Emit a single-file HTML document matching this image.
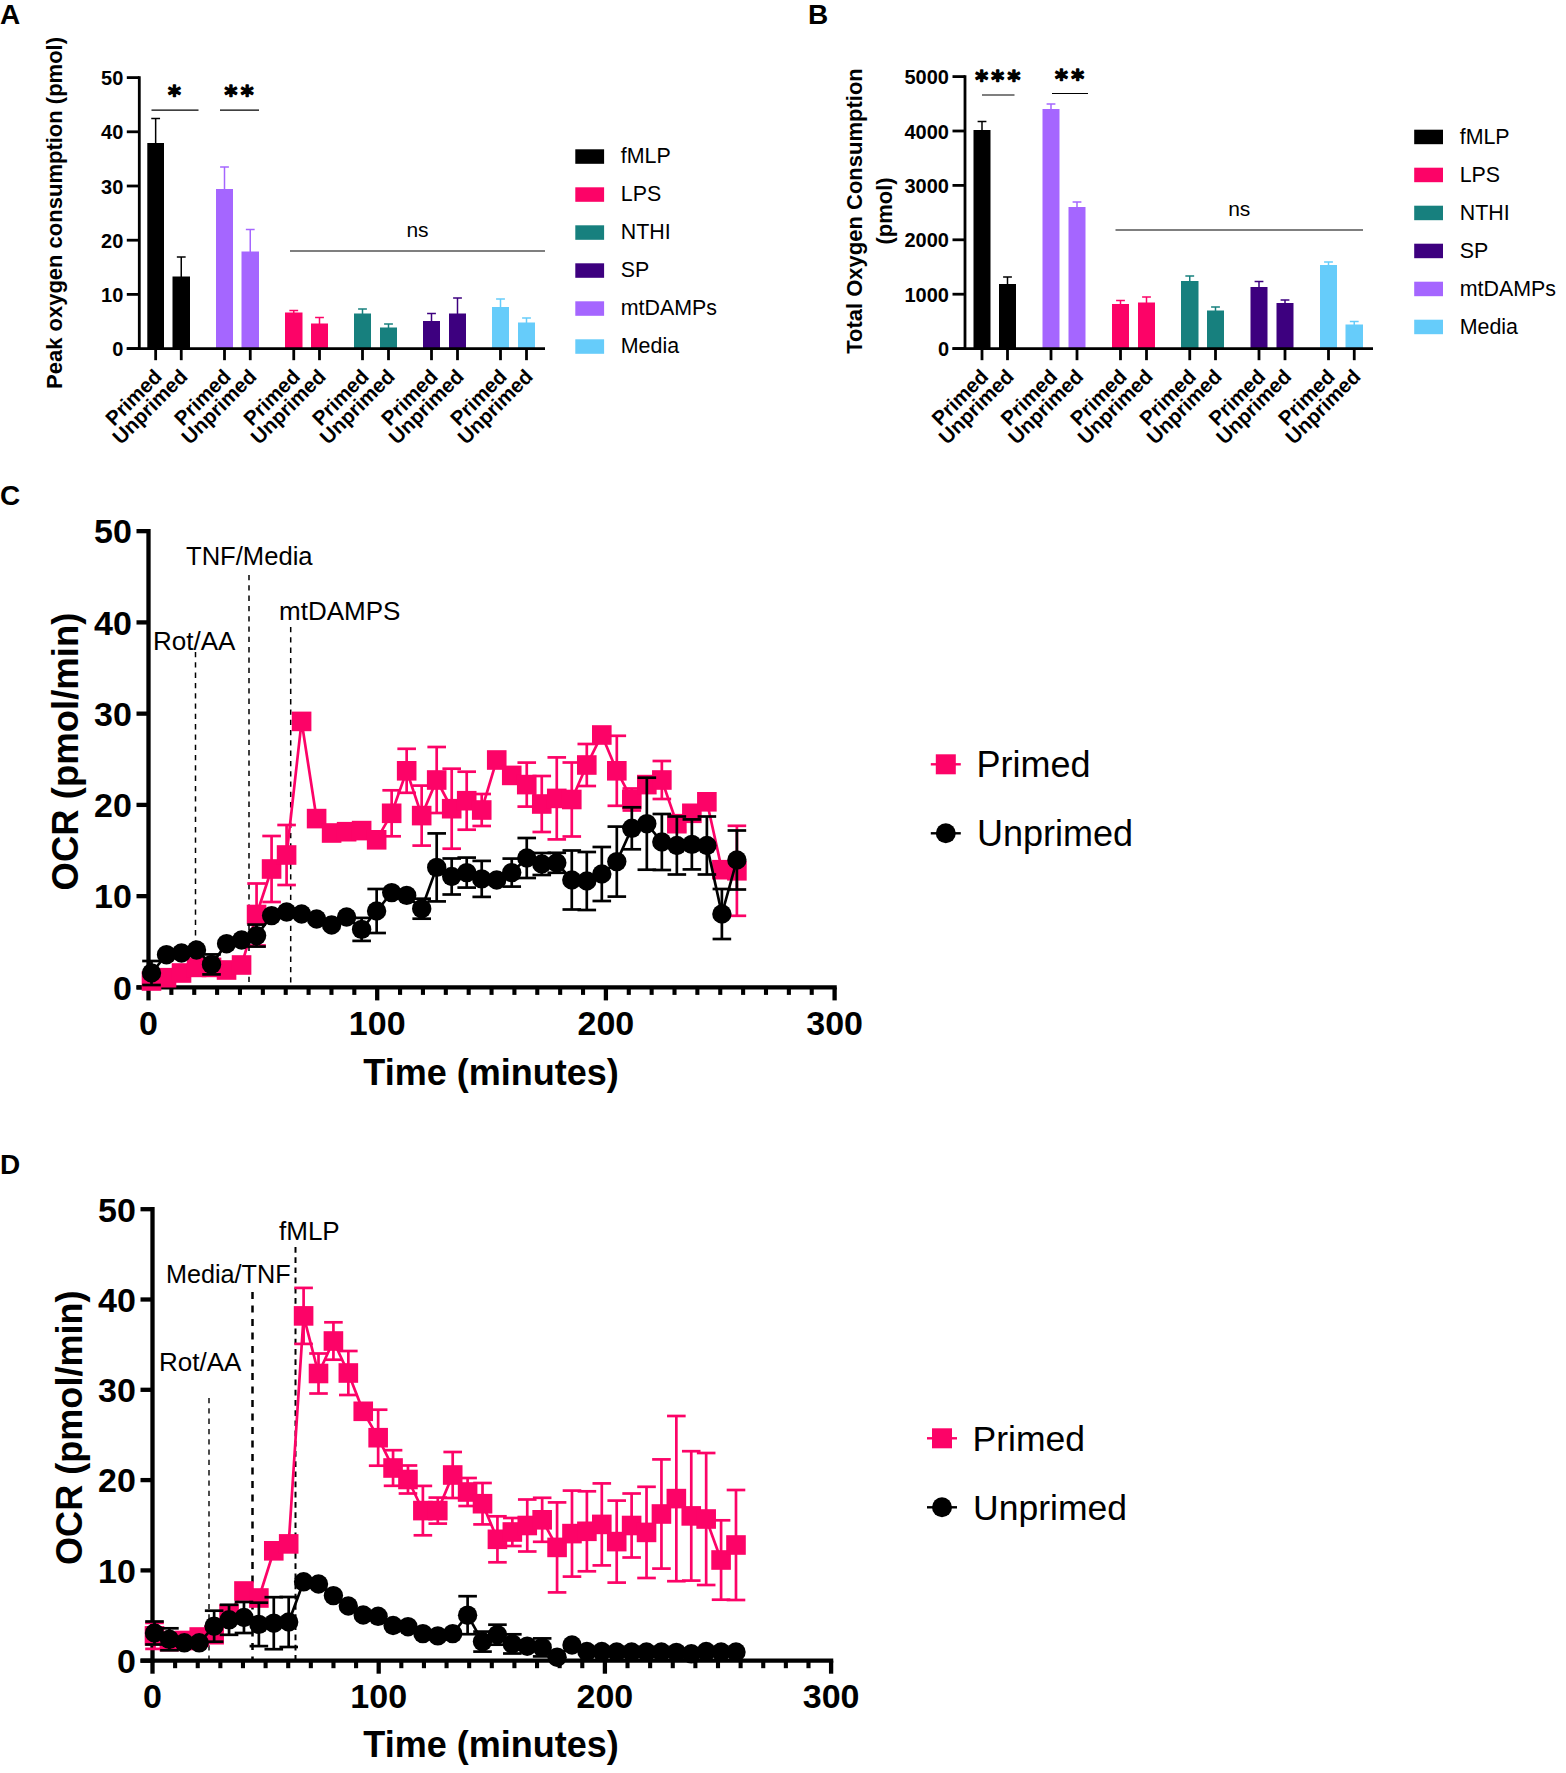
<!DOCTYPE html>
<html lang="en"><head><meta charset="utf-8"><title>Figure</title>
<style>
html,body{margin:0;padding:0;background:#fff;}
body{width:1566px;height:1773px;overflow:hidden;}
svg{display:block;font-family:"Liberation Sans", sans-serif;}
</style></head><body>
<svg width="1566" height="1773" viewBox="0 0 1566 1773">
<rect width="1566" height="1773" fill="#fff"/>
<text x="0.00" y="24.30" font-size="28" font-weight="700" text-anchor="start" fill="#000">A</text>
<line x1="155.65" y1="144.00" x2="155.65" y2="118.50" stroke="#000" stroke-width="1.5"/>
<line x1="151.25" y1="118.50" x2="160.05" y2="118.50" stroke="#000" stroke-width="1.5"/>
<rect x="147.30" y="143.00" width="16.70" height="205.60" fill="#000"/>
<line x1="155.65" y1="348.60" x2="155.65" y2="360.20" stroke="#000" stroke-width="2.8"/>
<line x1="181.25" y1="277.50" x2="181.25" y2="257.00" stroke="#000" stroke-width="1.5"/>
<line x1="176.85" y1="257.00" x2="185.65" y2="257.00" stroke="#000" stroke-width="1.5"/>
<rect x="172.50" y="276.50" width="17.50" height="72.10" fill="#000"/>
<line x1="181.25" y1="348.60" x2="181.25" y2="360.20" stroke="#000" stroke-width="2.8"/>
<line x1="224.50" y1="190.00" x2="224.50" y2="167.00" stroke="#A566FF" stroke-width="1.5"/>
<line x1="220.10" y1="167.00" x2="228.90" y2="167.00" stroke="#A566FF" stroke-width="1.5"/>
<rect x="216.00" y="189.00" width="17.00" height="159.60" fill="#A566FF"/>
<line x1="224.50" y1="348.60" x2="224.50" y2="360.20" stroke="#000" stroke-width="2.8"/>
<line x1="250.25" y1="252.50" x2="250.25" y2="229.50" stroke="#A566FF" stroke-width="1.5"/>
<line x1="245.85" y1="229.50" x2="254.65" y2="229.50" stroke="#A566FF" stroke-width="1.5"/>
<rect x="241.50" y="251.50" width="17.50" height="97.10" fill="#A566FF"/>
<line x1="250.25" y1="348.60" x2="250.25" y2="360.20" stroke="#000" stroke-width="2.8"/>
<line x1="293.75" y1="313.50" x2="293.75" y2="310.50" stroke="#FC0367" stroke-width="1.5"/>
<line x1="289.35" y1="310.50" x2="298.15" y2="310.50" stroke="#FC0367" stroke-width="1.5"/>
<rect x="285.00" y="312.50" width="17.50" height="36.10" fill="#FC0367"/>
<line x1="293.75" y1="348.60" x2="293.75" y2="360.20" stroke="#000" stroke-width="2.8"/>
<line x1="319.50" y1="324.50" x2="319.50" y2="317.50" stroke="#FC0367" stroke-width="1.5"/>
<line x1="315.10" y1="317.50" x2="323.90" y2="317.50" stroke="#FC0367" stroke-width="1.5"/>
<rect x="311.00" y="323.50" width="17.00" height="25.10" fill="#FC0367"/>
<line x1="319.50" y1="348.60" x2="319.50" y2="360.20" stroke="#000" stroke-width="2.8"/>
<line x1="362.50" y1="314.50" x2="362.50" y2="309.00" stroke="#17807E" stroke-width="1.5"/>
<line x1="358.10" y1="309.00" x2="366.90" y2="309.00" stroke="#17807E" stroke-width="1.5"/>
<rect x="354.00" y="313.50" width="17.00" height="35.10" fill="#17807E"/>
<line x1="362.50" y1="348.60" x2="362.50" y2="360.20" stroke="#000" stroke-width="2.8"/>
<line x1="388.50" y1="328.50" x2="388.50" y2="324.00" stroke="#17807E" stroke-width="1.5"/>
<line x1="384.10" y1="324.00" x2="392.90" y2="324.00" stroke="#17807E" stroke-width="1.5"/>
<rect x="380.00" y="327.50" width="17.00" height="21.10" fill="#17807E"/>
<line x1="388.50" y1="348.60" x2="388.50" y2="360.20" stroke="#000" stroke-width="2.8"/>
<line x1="431.50" y1="322.00" x2="431.50" y2="313.50" stroke="#3D007F" stroke-width="1.5"/>
<line x1="427.10" y1="313.50" x2="435.90" y2="313.50" stroke="#3D007F" stroke-width="1.5"/>
<rect x="423.00" y="321.00" width="17.00" height="27.60" fill="#3D007F"/>
<line x1="431.50" y1="348.60" x2="431.50" y2="360.20" stroke="#000" stroke-width="2.8"/>
<line x1="457.50" y1="314.50" x2="457.50" y2="298.00" stroke="#3D007F" stroke-width="1.5"/>
<line x1="453.10" y1="298.00" x2="461.90" y2="298.00" stroke="#3D007F" stroke-width="1.5"/>
<rect x="449.00" y="313.50" width="17.00" height="35.10" fill="#3D007F"/>
<line x1="457.50" y1="348.60" x2="457.50" y2="360.20" stroke="#000" stroke-width="2.8"/>
<line x1="500.50" y1="308.00" x2="500.50" y2="299.00" stroke="#66CCFA" stroke-width="1.5"/>
<line x1="496.10" y1="299.00" x2="504.90" y2="299.00" stroke="#66CCFA" stroke-width="1.5"/>
<rect x="492.00" y="307.00" width="17.00" height="41.60" fill="#66CCFA"/>
<line x1="500.50" y1="348.60" x2="500.50" y2="360.20" stroke="#000" stroke-width="2.8"/>
<line x1="526.50" y1="323.50" x2="526.50" y2="318.00" stroke="#66CCFA" stroke-width="1.5"/>
<line x1="522.10" y1="318.00" x2="530.90" y2="318.00" stroke="#66CCFA" stroke-width="1.5"/>
<rect x="518.00" y="322.50" width="17.00" height="26.10" fill="#66CCFA"/>
<line x1="526.50" y1="348.60" x2="526.50" y2="360.20" stroke="#000" stroke-width="2.8"/>
<line x1="139.30" y1="76.20" x2="139.30" y2="350.00" stroke="#000" stroke-width="2.8"/>
<line x1="126.80" y1="348.60" x2="545.00" y2="348.60" stroke="#000" stroke-width="2.8"/>
<line x1="126.80" y1="348.60" x2="139.30" y2="348.60" stroke="#000" stroke-width="2.8"/>
<text x="123.30" y="356.20" font-size="20" font-weight="700" text-anchor="end" fill="#000">0</text>
<line x1="126.80" y1="294.40" x2="139.30" y2="294.40" stroke="#000" stroke-width="2.8"/>
<text x="123.30" y="302.00" font-size="20" font-weight="700" text-anchor="end" fill="#000">10</text>
<line x1="126.80" y1="240.20" x2="139.30" y2="240.20" stroke="#000" stroke-width="2.8"/>
<text x="123.30" y="247.80" font-size="20" font-weight="700" text-anchor="end" fill="#000">20</text>
<line x1="126.80" y1="186.00" x2="139.30" y2="186.00" stroke="#000" stroke-width="2.8"/>
<text x="123.30" y="193.60" font-size="20" font-weight="700" text-anchor="end" fill="#000">30</text>
<line x1="126.80" y1="131.80" x2="139.30" y2="131.80" stroke="#000" stroke-width="2.8"/>
<text x="123.30" y="139.40" font-size="20" font-weight="700" text-anchor="end" fill="#000">40</text>
<line x1="126.80" y1="77.60" x2="139.30" y2="77.60" stroke="#000" stroke-width="2.8"/>
<text x="123.30" y="85.20" font-size="20" font-weight="700" text-anchor="end" fill="#000">50</text>
<text x="163.15" y="377.80" font-size="20.5" font-weight="700" text-anchor="end" fill="#000" transform="rotate(-45 163.15 377.80)">Primed</text>
<text x="188.75" y="377.80" font-size="20.5" font-weight="700" text-anchor="end" fill="#000" transform="rotate(-45 188.75 377.80)">Unprimed</text>
<text x="232.00" y="377.80" font-size="20.5" font-weight="700" text-anchor="end" fill="#000" transform="rotate(-45 232.00 377.80)">Primed</text>
<text x="257.75" y="377.80" font-size="20.5" font-weight="700" text-anchor="end" fill="#000" transform="rotate(-45 257.75 377.80)">Unprimed</text>
<text x="301.25" y="377.80" font-size="20.5" font-weight="700" text-anchor="end" fill="#000" transform="rotate(-45 301.25 377.80)">Primed</text>
<text x="327.00" y="377.80" font-size="20.5" font-weight="700" text-anchor="end" fill="#000" transform="rotate(-45 327.00 377.80)">Unprimed</text>
<text x="370.00" y="377.80" font-size="20.5" font-weight="700" text-anchor="end" fill="#000" transform="rotate(-45 370.00 377.80)">Primed</text>
<text x="396.00" y="377.80" font-size="20.5" font-weight="700" text-anchor="end" fill="#000" transform="rotate(-45 396.00 377.80)">Unprimed</text>
<text x="439.00" y="377.80" font-size="20.5" font-weight="700" text-anchor="end" fill="#000" transform="rotate(-45 439.00 377.80)">Primed</text>
<text x="465.00" y="377.80" font-size="20.5" font-weight="700" text-anchor="end" fill="#000" transform="rotate(-45 465.00 377.80)">Unprimed</text>
<text x="508.00" y="377.80" font-size="20.5" font-weight="700" text-anchor="end" fill="#000" transform="rotate(-45 508.00 377.80)">Primed</text>
<text x="534.00" y="377.80" font-size="20.5" font-weight="700" text-anchor="end" fill="#000" transform="rotate(-45 534.00 377.80)">Unprimed</text>
<line x1="151.50" y1="110.20" x2="198.50" y2="110.20" stroke="#000" stroke-width="1.2"/>
<text x="176.20" y="102.60" font-family="DejaVu Sans, sans-serif" font-weight="700" font-size="24.5" text-anchor="middle" letter-spacing="3.4" stroke="#000" stroke-width="1.3" stroke-linejoin="round">*</text>
<line x1="220.00" y1="110.20" x2="259.00" y2="110.20" stroke="#000" stroke-width="1.2"/>
<text x="240.70" y="102.60" font-family="DejaVu Sans, sans-serif" font-weight="700" font-size="24.5" text-anchor="middle" letter-spacing="3.4" stroke="#000" stroke-width="1.3" stroke-linejoin="round">**</text>
<line x1="290.00" y1="251.00" x2="545.00" y2="251.00" stroke="#000" stroke-width="1.2"/>
<text x="417.50" y="236.50" font-size="21" text-anchor="middle" fill="#000">ns</text>
<rect x="575.30" y="149.30" width="28.80" height="14.50" fill="#000"/>
<text x="620.80" y="163.30" font-size="21.4" text-anchor="start" fill="#000">fMLP</text>
<rect x="575.30" y="187.30" width="28.80" height="14.50" fill="#FC0367"/>
<text x="620.80" y="201.30" font-size="21.4" text-anchor="start" fill="#000">LPS</text>
<rect x="575.30" y="225.30" width="28.80" height="14.50" fill="#17807E"/>
<text x="620.80" y="239.30" font-size="21.4" text-anchor="start" fill="#000">NTHI</text>
<rect x="575.30" y="263.30" width="28.80" height="14.50" fill="#3D007F"/>
<text x="620.80" y="277.30" font-size="21.4" text-anchor="start" fill="#000">SP</text>
<rect x="575.30" y="301.30" width="28.80" height="14.50" fill="#A566FF"/>
<text x="620.80" y="315.30" font-size="21.4" text-anchor="start" fill="#000">mtDAMPs</text>
<rect x="575.30" y="339.30" width="28.80" height="14.50" fill="#66CCFA"/>
<text x="620.80" y="353.30" font-size="21.4" text-anchor="start" fill="#000">Media</text>
<text x="62.00" y="213.00" font-size="22" font-weight="700" text-anchor="middle" fill="#000" transform="rotate(-90 62.00 213.00)">Peak oxygen consumption (pmol)</text>
<text x="808.00" y="24.30" font-size="28" font-weight="700" text-anchor="start" fill="#000">B</text>
<line x1="982.00" y1="131.00" x2="982.00" y2="121.50" stroke="#000" stroke-width="1.5"/>
<line x1="977.60" y1="121.50" x2="986.40" y2="121.50" stroke="#000" stroke-width="1.5"/>
<rect x="973.50" y="130.00" width="17.00" height="218.60" fill="#000"/>
<line x1="982.00" y1="348.60" x2="982.00" y2="360.20" stroke="#000" stroke-width="2.8"/>
<line x1="1007.50" y1="285.00" x2="1007.50" y2="277.00" stroke="#000" stroke-width="1.5"/>
<line x1="1003.10" y1="277.00" x2="1011.90" y2="277.00" stroke="#000" stroke-width="1.5"/>
<rect x="999.00" y="284.00" width="17.00" height="64.60" fill="#000"/>
<line x1="1007.50" y1="348.60" x2="1007.50" y2="360.20" stroke="#000" stroke-width="2.8"/>
<line x1="1051.00" y1="110.00" x2="1051.00" y2="104.00" stroke="#A566FF" stroke-width="1.5"/>
<line x1="1046.60" y1="104.00" x2="1055.40" y2="104.00" stroke="#A566FF" stroke-width="1.5"/>
<rect x="1042.50" y="109.00" width="17.00" height="239.60" fill="#A566FF"/>
<line x1="1051.00" y1="348.60" x2="1051.00" y2="360.20" stroke="#000" stroke-width="2.8"/>
<line x1="1077.00" y1="208.00" x2="1077.00" y2="202.00" stroke="#A566FF" stroke-width="1.5"/>
<line x1="1072.60" y1="202.00" x2="1081.40" y2="202.00" stroke="#A566FF" stroke-width="1.5"/>
<rect x="1068.50" y="207.00" width="17.00" height="141.60" fill="#A566FF"/>
<line x1="1077.00" y1="348.60" x2="1077.00" y2="360.20" stroke="#000" stroke-width="2.8"/>
<line x1="1120.50" y1="305.00" x2="1120.50" y2="300.50" stroke="#FC0367" stroke-width="1.5"/>
<line x1="1116.10" y1="300.50" x2="1124.90" y2="300.50" stroke="#FC0367" stroke-width="1.5"/>
<rect x="1112.00" y="304.00" width="17.00" height="44.60" fill="#FC0367"/>
<line x1="1120.50" y1="348.60" x2="1120.50" y2="360.20" stroke="#000" stroke-width="2.8"/>
<line x1="1146.50" y1="303.50" x2="1146.50" y2="297.00" stroke="#FC0367" stroke-width="1.5"/>
<line x1="1142.10" y1="297.00" x2="1150.90" y2="297.00" stroke="#FC0367" stroke-width="1.5"/>
<rect x="1138.00" y="302.50" width="17.00" height="46.10" fill="#FC0367"/>
<line x1="1146.50" y1="348.60" x2="1146.50" y2="360.20" stroke="#000" stroke-width="2.8"/>
<line x1="1189.75" y1="282.00" x2="1189.75" y2="276.00" stroke="#17807E" stroke-width="1.5"/>
<line x1="1185.35" y1="276.00" x2="1194.15" y2="276.00" stroke="#17807E" stroke-width="1.5"/>
<rect x="1181.00" y="281.00" width="17.50" height="67.60" fill="#17807E"/>
<line x1="1189.75" y1="348.60" x2="1189.75" y2="360.20" stroke="#000" stroke-width="2.8"/>
<line x1="1215.50" y1="311.50" x2="1215.50" y2="307.00" stroke="#17807E" stroke-width="1.5"/>
<line x1="1211.10" y1="307.00" x2="1219.90" y2="307.00" stroke="#17807E" stroke-width="1.5"/>
<rect x="1207.00" y="310.50" width="17.00" height="38.10" fill="#17807E"/>
<line x1="1215.50" y1="348.60" x2="1215.50" y2="360.20" stroke="#000" stroke-width="2.8"/>
<line x1="1259.00" y1="288.00" x2="1259.00" y2="281.50" stroke="#3D007F" stroke-width="1.5"/>
<line x1="1254.60" y1="281.50" x2="1263.40" y2="281.50" stroke="#3D007F" stroke-width="1.5"/>
<rect x="1250.50" y="287.00" width="17.00" height="61.60" fill="#3D007F"/>
<line x1="1259.00" y1="348.60" x2="1259.00" y2="360.20" stroke="#000" stroke-width="2.8"/>
<line x1="1285.00" y1="304.00" x2="1285.00" y2="300.00" stroke="#3D007F" stroke-width="1.5"/>
<line x1="1280.60" y1="300.00" x2="1289.40" y2="300.00" stroke="#3D007F" stroke-width="1.5"/>
<rect x="1276.50" y="303.00" width="17.00" height="45.60" fill="#3D007F"/>
<line x1="1285.00" y1="348.60" x2="1285.00" y2="360.20" stroke="#000" stroke-width="2.8"/>
<line x1="1328.50" y1="266.00" x2="1328.50" y2="262.00" stroke="#66CCFA" stroke-width="1.5"/>
<line x1="1324.10" y1="262.00" x2="1332.90" y2="262.00" stroke="#66CCFA" stroke-width="1.5"/>
<rect x="1320.00" y="265.00" width="17.00" height="83.60" fill="#66CCFA"/>
<line x1="1328.50" y1="348.60" x2="1328.50" y2="360.20" stroke="#000" stroke-width="2.8"/>
<line x1="1354.25" y1="325.50" x2="1354.25" y2="321.50" stroke="#66CCFA" stroke-width="1.5"/>
<line x1="1349.85" y1="321.50" x2="1358.65" y2="321.50" stroke="#66CCFA" stroke-width="1.5"/>
<rect x="1345.50" y="324.50" width="17.50" height="24.10" fill="#66CCFA"/>
<line x1="1354.25" y1="348.60" x2="1354.25" y2="360.20" stroke="#000" stroke-width="2.8"/>
<line x1="965.00" y1="75.20" x2="965.00" y2="350.00" stroke="#000" stroke-width="2.8"/>
<line x1="952.50" y1="348.60" x2="1373.00" y2="348.60" stroke="#000" stroke-width="2.8"/>
<line x1="952.50" y1="348.60" x2="965.00" y2="348.60" stroke="#000" stroke-width="2.8"/>
<text x="949.00" y="356.20" font-size="20" font-weight="700" text-anchor="end" fill="#000">0</text>
<line x1="952.50" y1="294.20" x2="965.00" y2="294.20" stroke="#000" stroke-width="2.8"/>
<text x="949.00" y="301.80" font-size="20" font-weight="700" text-anchor="end" fill="#000">1000</text>
<line x1="952.50" y1="239.80" x2="965.00" y2="239.80" stroke="#000" stroke-width="2.8"/>
<text x="949.00" y="247.40" font-size="20" font-weight="700" text-anchor="end" fill="#000">2000</text>
<line x1="952.50" y1="185.40" x2="965.00" y2="185.40" stroke="#000" stroke-width="2.8"/>
<text x="949.00" y="193.00" font-size="20" font-weight="700" text-anchor="end" fill="#000">3000</text>
<line x1="952.50" y1="131.00" x2="965.00" y2="131.00" stroke="#000" stroke-width="2.8"/>
<text x="949.00" y="138.60" font-size="20" font-weight="700" text-anchor="end" fill="#000">4000</text>
<line x1="952.50" y1="76.60" x2="965.00" y2="76.60" stroke="#000" stroke-width="2.8"/>
<text x="949.00" y="84.20" font-size="20" font-weight="700" text-anchor="end" fill="#000">5000</text>
<text x="989.50" y="377.80" font-size="20.5" font-weight="700" text-anchor="end" fill="#000" transform="rotate(-45 989.50 377.80)">Primed</text>
<text x="1015.00" y="377.80" font-size="20.5" font-weight="700" text-anchor="end" fill="#000" transform="rotate(-45 1015.00 377.80)">Unprimed</text>
<text x="1058.50" y="377.80" font-size="20.5" font-weight="700" text-anchor="end" fill="#000" transform="rotate(-45 1058.50 377.80)">Primed</text>
<text x="1084.50" y="377.80" font-size="20.5" font-weight="700" text-anchor="end" fill="#000" transform="rotate(-45 1084.50 377.80)">Unprimed</text>
<text x="1128.00" y="377.80" font-size="20.5" font-weight="700" text-anchor="end" fill="#000" transform="rotate(-45 1128.00 377.80)">Primed</text>
<text x="1154.00" y="377.80" font-size="20.5" font-weight="700" text-anchor="end" fill="#000" transform="rotate(-45 1154.00 377.80)">Unprimed</text>
<text x="1197.25" y="377.80" font-size="20.5" font-weight="700" text-anchor="end" fill="#000" transform="rotate(-45 1197.25 377.80)">Primed</text>
<text x="1223.00" y="377.80" font-size="20.5" font-weight="700" text-anchor="end" fill="#000" transform="rotate(-45 1223.00 377.80)">Unprimed</text>
<text x="1266.50" y="377.80" font-size="20.5" font-weight="700" text-anchor="end" fill="#000" transform="rotate(-45 1266.50 377.80)">Primed</text>
<text x="1292.50" y="377.80" font-size="20.5" font-weight="700" text-anchor="end" fill="#000" transform="rotate(-45 1292.50 377.80)">Unprimed</text>
<text x="1336.00" y="377.80" font-size="20.5" font-weight="700" text-anchor="end" fill="#000" transform="rotate(-45 1336.00 377.80)">Primed</text>
<text x="1361.75" y="377.80" font-size="20.5" font-weight="700" text-anchor="end" fill="#000" transform="rotate(-45 1361.75 377.80)">Unprimed</text>
<line x1="982.00" y1="95.00" x2="1014.50" y2="95.00" stroke="#000" stroke-width="1.2"/>
<text x="999.45" y="87.60" font-family="DejaVu Sans, sans-serif" font-weight="700" font-size="24.5" text-anchor="middle" letter-spacing="3.4" stroke="#000" stroke-width="1.3" stroke-linejoin="round">***</text>
<line x1="1052.00" y1="93.50" x2="1088.00" y2="93.50" stroke="#000" stroke-width="1.2"/>
<text x="1071.20" y="86.60" font-family="DejaVu Sans, sans-serif" font-weight="700" font-size="24.5" text-anchor="middle" letter-spacing="3.4" stroke="#000" stroke-width="1.3" stroke-linejoin="round">**</text>
<line x1="1115.50" y1="230.00" x2="1363.00" y2="230.00" stroke="#000" stroke-width="1.2"/>
<text x="1239.25" y="216.00" font-size="21" text-anchor="middle" fill="#000">ns</text>
<rect x="1414.20" y="129.70" width="28.80" height="14.50" fill="#000"/>
<text x="1459.70" y="143.70" font-size="21.4" text-anchor="start" fill="#000">fMLP</text>
<rect x="1414.20" y="167.70" width="28.80" height="14.50" fill="#FC0367"/>
<text x="1459.70" y="181.70" font-size="21.4" text-anchor="start" fill="#000">LPS</text>
<rect x="1414.20" y="205.70" width="28.80" height="14.50" fill="#17807E"/>
<text x="1459.70" y="219.70" font-size="21.4" text-anchor="start" fill="#000">NTHI</text>
<rect x="1414.20" y="243.70" width="28.80" height="14.50" fill="#3D007F"/>
<text x="1459.70" y="257.70" font-size="21.4" text-anchor="start" fill="#000">SP</text>
<rect x="1414.20" y="281.70" width="28.80" height="14.50" fill="#A566FF"/>
<text x="1459.70" y="295.70" font-size="21.4" text-anchor="start" fill="#000">mtDAMPs</text>
<rect x="1414.20" y="319.70" width="28.80" height="14.50" fill="#66CCFA"/>
<text x="1459.70" y="333.70" font-size="21.4" text-anchor="start" fill="#000">Media</text>
<text x="862.00" y="211.00" font-size="22" font-weight="700" text-anchor="middle" fill="#000" transform="rotate(-90 862.00 211.00)">Total Oxygen Consumption</text>
<text x="891.50" y="211.00" font-size="22" font-weight="700" text-anchor="middle" fill="#000" transform="rotate(-90 891.50 211.00)">(pmol)</text>
<text x="0.00" y="505.30" font-size="28" font-weight="700" text-anchor="start" fill="#000">C</text>
<line x1="148.50" y1="529.00" x2="148.50" y2="989.55" stroke="#000" stroke-width="4.3"/>
<line x1="136.50" y1="987.40" x2="836.75" y2="987.40" stroke="#000" stroke-width="4.3"/>
<line x1="136.50" y1="987.40" x2="148.50" y2="987.40" stroke="#000" stroke-width="4.3"/>
<text x="131.90" y="999.70" font-size="34" font-weight="700" text-anchor="end" fill="#000">0</text>
<line x1="136.50" y1="896.15" x2="148.50" y2="896.15" stroke="#000" stroke-width="4.3"/>
<text x="131.90" y="908.45" font-size="34" font-weight="700" text-anchor="end" fill="#000">10</text>
<line x1="136.50" y1="804.90" x2="148.50" y2="804.90" stroke="#000" stroke-width="4.3"/>
<text x="131.90" y="817.20" font-size="34" font-weight="700" text-anchor="end" fill="#000">20</text>
<line x1="136.50" y1="713.65" x2="148.50" y2="713.65" stroke="#000" stroke-width="4.3"/>
<text x="131.90" y="725.95" font-size="34" font-weight="700" text-anchor="end" fill="#000">30</text>
<line x1="136.50" y1="622.40" x2="148.50" y2="622.40" stroke="#000" stroke-width="4.3"/>
<text x="131.90" y="634.70" font-size="34" font-weight="700" text-anchor="end" fill="#000">40</text>
<line x1="136.50" y1="531.15" x2="148.50" y2="531.15" stroke="#000" stroke-width="4.3"/>
<text x="131.90" y="543.45" font-size="34" font-weight="700" text-anchor="end" fill="#000">50</text>
<line x1="148.50" y1="987.40" x2="148.50" y2="1000.40" stroke="#000" stroke-width="4.3"/>
<text x="148.50" y="1034.60" font-size="34" font-weight="700" text-anchor="middle" fill="#000">0</text>
<line x1="171.37" y1="987.40" x2="171.37" y2="994.90" stroke="#000" stroke-width="4.1"/>
<line x1="194.24" y1="987.40" x2="194.24" y2="994.90" stroke="#000" stroke-width="4.1"/>
<line x1="217.11" y1="987.40" x2="217.11" y2="994.90" stroke="#000" stroke-width="4.1"/>
<line x1="239.98" y1="987.40" x2="239.98" y2="994.90" stroke="#000" stroke-width="4.1"/>
<line x1="262.85" y1="987.40" x2="262.85" y2="994.90" stroke="#000" stroke-width="4.1"/>
<line x1="285.72" y1="987.40" x2="285.72" y2="994.90" stroke="#000" stroke-width="4.1"/>
<line x1="308.59" y1="987.40" x2="308.59" y2="994.90" stroke="#000" stroke-width="4.1"/>
<line x1="331.46" y1="987.40" x2="331.46" y2="994.90" stroke="#000" stroke-width="4.1"/>
<line x1="354.33" y1="987.40" x2="354.33" y2="994.90" stroke="#000" stroke-width="4.1"/>
<line x1="377.20" y1="987.40" x2="377.20" y2="1000.40" stroke="#000" stroke-width="4.3"/>
<text x="377.20" y="1034.60" font-size="34" font-weight="700" text-anchor="middle" fill="#000">100</text>
<line x1="400.07" y1="987.40" x2="400.07" y2="994.90" stroke="#000" stroke-width="4.1"/>
<line x1="422.94" y1="987.40" x2="422.94" y2="994.90" stroke="#000" stroke-width="4.1"/>
<line x1="445.81" y1="987.40" x2="445.81" y2="994.90" stroke="#000" stroke-width="4.1"/>
<line x1="468.68" y1="987.40" x2="468.68" y2="994.90" stroke="#000" stroke-width="4.1"/>
<line x1="491.55" y1="987.40" x2="491.55" y2="994.90" stroke="#000" stroke-width="4.1"/>
<line x1="514.42" y1="987.40" x2="514.42" y2="994.90" stroke="#000" stroke-width="4.1"/>
<line x1="537.29" y1="987.40" x2="537.29" y2="994.90" stroke="#000" stroke-width="4.1"/>
<line x1="560.16" y1="987.40" x2="560.16" y2="994.90" stroke="#000" stroke-width="4.1"/>
<line x1="583.03" y1="987.40" x2="583.03" y2="994.90" stroke="#000" stroke-width="4.1"/>
<line x1="605.90" y1="987.40" x2="605.90" y2="1000.40" stroke="#000" stroke-width="4.3"/>
<text x="605.90" y="1034.60" font-size="34" font-weight="700" text-anchor="middle" fill="#000">200</text>
<line x1="628.77" y1="987.40" x2="628.77" y2="994.90" stroke="#000" stroke-width="4.1"/>
<line x1="651.64" y1="987.40" x2="651.64" y2="994.90" stroke="#000" stroke-width="4.1"/>
<line x1="674.51" y1="987.40" x2="674.51" y2="994.90" stroke="#000" stroke-width="4.1"/>
<line x1="697.38" y1="987.40" x2="697.38" y2="994.90" stroke="#000" stroke-width="4.1"/>
<line x1="720.25" y1="987.40" x2="720.25" y2="994.90" stroke="#000" stroke-width="4.1"/>
<line x1="743.12" y1="987.40" x2="743.12" y2="994.90" stroke="#000" stroke-width="4.1"/>
<line x1="765.99" y1="987.40" x2="765.99" y2="994.90" stroke="#000" stroke-width="4.1"/>
<line x1="788.86" y1="987.40" x2="788.86" y2="994.90" stroke="#000" stroke-width="4.1"/>
<line x1="811.73" y1="987.40" x2="811.73" y2="994.90" stroke="#000" stroke-width="4.1"/>
<line x1="834.60" y1="987.40" x2="834.60" y2="1000.40" stroke="#000" stroke-width="4.3"/>
<text x="834.60" y="1034.60" font-size="34" font-weight="700" text-anchor="middle" fill="#000">300</text>
<line x1="195.50" y1="652.00" x2="195.50" y2="977.00" stroke="#000" stroke-width="1.5" stroke-dasharray="5.3 5"/>
<line x1="249.00" y1="575.00" x2="249.00" y2="989.00" stroke="#000" stroke-width="1.5" stroke-dasharray="5.3 5"/>
<line x1="290.70" y1="627.00" x2="290.70" y2="984.00" stroke="#000" stroke-width="1.5" stroke-dasharray="5.3 5"/>
<text x="153.00" y="650.00" font-size="26" text-anchor="start" fill="#000">Rot/AA</text>
<text x="186.00" y="565.00" font-size="25.6" text-anchor="start" fill="#000">TNF/Media</text>
<text x="279.00" y="620.00" font-size="26" text-anchor="start" fill="#000">mtDAMPS</text>
<line x1="256.57" y1="883.50" x2="256.57" y2="945.50" stroke="#FC0367" stroke-width="2.7"/>
<line x1="247.27" y1="883.50" x2="265.87" y2="883.50" stroke="#FC0367" stroke-width="2.7"/>
<line x1="247.27" y1="945.50" x2="265.87" y2="945.50" stroke="#FC0367" stroke-width="2.7"/>
<line x1="271.58" y1="836.00" x2="271.58" y2="902.00" stroke="#FC0367" stroke-width="2.7"/>
<line x1="262.28" y1="836.00" x2="280.88" y2="836.00" stroke="#FC0367" stroke-width="2.7"/>
<line x1="262.28" y1="902.00" x2="280.88" y2="902.00" stroke="#FC0367" stroke-width="2.7"/>
<line x1="286.59" y1="825.00" x2="286.59" y2="885.00" stroke="#FC0367" stroke-width="2.7"/>
<line x1="277.29" y1="825.00" x2="295.89" y2="825.00" stroke="#FC0367" stroke-width="2.7"/>
<line x1="277.29" y1="885.00" x2="295.89" y2="885.00" stroke="#FC0367" stroke-width="2.7"/>
<line x1="391.66" y1="790.30" x2="391.66" y2="836.30" stroke="#FC0367" stroke-width="2.7"/>
<line x1="382.36" y1="790.30" x2="400.96" y2="790.30" stroke="#FC0367" stroke-width="2.7"/>
<line x1="382.36" y1="836.30" x2="400.96" y2="836.30" stroke="#FC0367" stroke-width="2.7"/>
<line x1="406.67" y1="748.80" x2="406.67" y2="792.80" stroke="#FC0367" stroke-width="2.7"/>
<line x1="397.37" y1="748.80" x2="415.97" y2="748.80" stroke="#FC0367" stroke-width="2.7"/>
<line x1="397.37" y1="792.80" x2="415.97" y2="792.80" stroke="#FC0367" stroke-width="2.7"/>
<line x1="421.68" y1="785.60" x2="421.68" y2="845.60" stroke="#FC0367" stroke-width="2.7"/>
<line x1="412.38" y1="785.60" x2="430.98" y2="785.60" stroke="#FC0367" stroke-width="2.7"/>
<line x1="412.38" y1="845.60" x2="430.98" y2="845.60" stroke="#FC0367" stroke-width="2.7"/>
<line x1="436.69" y1="747.00" x2="436.69" y2="813.00" stroke="#FC0367" stroke-width="2.7"/>
<line x1="427.39" y1="747.00" x2="445.99" y2="747.00" stroke="#FC0367" stroke-width="2.7"/>
<line x1="427.39" y1="813.00" x2="445.99" y2="813.00" stroke="#FC0367" stroke-width="2.7"/>
<line x1="451.70" y1="768.70" x2="451.70" y2="848.70" stroke="#FC0367" stroke-width="2.7"/>
<line x1="442.40" y1="768.70" x2="461.00" y2="768.70" stroke="#FC0367" stroke-width="2.7"/>
<line x1="442.40" y1="848.70" x2="461.00" y2="848.70" stroke="#FC0367" stroke-width="2.7"/>
<line x1="466.71" y1="771.70" x2="466.71" y2="829.70" stroke="#FC0367" stroke-width="2.7"/>
<line x1="457.41" y1="771.70" x2="476.01" y2="771.70" stroke="#FC0367" stroke-width="2.7"/>
<line x1="457.41" y1="829.70" x2="476.01" y2="829.70" stroke="#FC0367" stroke-width="2.7"/>
<line x1="481.72" y1="794.00" x2="481.72" y2="826.00" stroke="#FC0367" stroke-width="2.7"/>
<line x1="472.42" y1="794.00" x2="491.02" y2="794.00" stroke="#FC0367" stroke-width="2.7"/>
<line x1="472.42" y1="826.00" x2="491.02" y2="826.00" stroke="#FC0367" stroke-width="2.7"/>
<line x1="526.75" y1="762.60" x2="526.75" y2="806.60" stroke="#FC0367" stroke-width="2.7"/>
<line x1="517.45" y1="762.60" x2="536.05" y2="762.60" stroke="#FC0367" stroke-width="2.7"/>
<line x1="517.45" y1="806.60" x2="536.05" y2="806.60" stroke="#FC0367" stroke-width="2.7"/>
<line x1="541.76" y1="776.00" x2="541.76" y2="832.00" stroke="#FC0367" stroke-width="2.7"/>
<line x1="532.46" y1="776.00" x2="551.06" y2="776.00" stroke="#FC0367" stroke-width="2.7"/>
<line x1="532.46" y1="832.00" x2="551.06" y2="832.00" stroke="#FC0367" stroke-width="2.7"/>
<line x1="556.77" y1="757.40" x2="556.77" y2="839.40" stroke="#FC0367" stroke-width="2.7"/>
<line x1="547.47" y1="757.40" x2="566.07" y2="757.40" stroke="#FC0367" stroke-width="2.7"/>
<line x1="547.47" y1="839.40" x2="566.07" y2="839.40" stroke="#FC0367" stroke-width="2.7"/>
<line x1="571.78" y1="762.50" x2="571.78" y2="836.50" stroke="#FC0367" stroke-width="2.7"/>
<line x1="562.48" y1="762.50" x2="581.08" y2="762.50" stroke="#FC0367" stroke-width="2.7"/>
<line x1="562.48" y1="836.50" x2="581.08" y2="836.50" stroke="#FC0367" stroke-width="2.7"/>
<line x1="586.79" y1="744.00" x2="586.79" y2="786.00" stroke="#FC0367" stroke-width="2.7"/>
<line x1="577.49" y1="744.00" x2="596.09" y2="744.00" stroke="#FC0367" stroke-width="2.7"/>
<line x1="577.49" y1="786.00" x2="596.09" y2="786.00" stroke="#FC0367" stroke-width="2.7"/>
<line x1="616.81" y1="735.80" x2="616.81" y2="805.80" stroke="#FC0367" stroke-width="2.7"/>
<line x1="607.51" y1="735.80" x2="626.11" y2="735.80" stroke="#FC0367" stroke-width="2.7"/>
<line x1="607.51" y1="805.80" x2="626.11" y2="805.80" stroke="#FC0367" stroke-width="2.7"/>
<line x1="631.82" y1="788.50" x2="631.82" y2="810.50" stroke="#FC0367" stroke-width="2.7"/>
<line x1="622.52" y1="788.50" x2="641.12" y2="788.50" stroke="#FC0367" stroke-width="2.7"/>
<line x1="622.52" y1="810.50" x2="641.12" y2="810.50" stroke="#FC0367" stroke-width="2.7"/>
<line x1="661.84" y1="761.00" x2="661.84" y2="799.00" stroke="#FC0367" stroke-width="2.7"/>
<line x1="652.54" y1="761.00" x2="671.14" y2="761.00" stroke="#FC0367" stroke-width="2.7"/>
<line x1="652.54" y1="799.00" x2="671.14" y2="799.00" stroke="#FC0367" stroke-width="2.7"/>
<line x1="676.85" y1="816.70" x2="676.85" y2="830.70" stroke="#FC0367" stroke-width="2.7"/>
<line x1="667.55" y1="816.70" x2="686.15" y2="816.70" stroke="#FC0367" stroke-width="2.7"/>
<line x1="667.55" y1="830.70" x2="686.15" y2="830.70" stroke="#FC0367" stroke-width="2.7"/>
<line x1="736.89" y1="825.80" x2="736.89" y2="915.80" stroke="#FC0367" stroke-width="2.7"/>
<line x1="727.59" y1="825.80" x2="746.19" y2="825.80" stroke="#FC0367" stroke-width="2.7"/>
<line x1="727.59" y1="915.80" x2="746.19" y2="915.80" stroke="#FC0367" stroke-width="2.7"/>
<polyline points="151.5,981.0 166.5,977.7 181.5,973.0 196.5,967.4 211.5,967.4 226.6,970.0 241.6,965.0 256.6,914.5 271.6,869.0 286.6,855.0 301.6,721.4 316.6,818.6 331.6,833.0 346.6,831.7 361.6,830.6 376.6,839.8 391.7,813.3 406.7,770.8 421.7,815.6 436.7,780.0 451.7,808.7 466.7,800.7 481.7,810.0 496.7,760.0 511.7,775.4 526.8,784.6 541.8,804.0 556.8,798.4 571.8,799.5 586.8,765.0 601.8,735.0 616.8,770.8 631.8,799.5 646.8,784.6 661.8,780.0 676.9,823.7 691.9,813.3 706.9,801.8 721.9,869.7 736.9,870.8" fill="none" stroke="#FC0367" stroke-width="2.7"/>
<rect x="141.70" y="971.20" width="19.60" height="19.60" fill="#FC0367"/>
<rect x="156.71" y="967.90" width="19.60" height="19.60" fill="#FC0367"/>
<rect x="171.72" y="963.20" width="19.60" height="19.60" fill="#FC0367"/>
<rect x="186.73" y="957.60" width="19.60" height="19.60" fill="#FC0367"/>
<rect x="201.74" y="957.60" width="19.60" height="19.60" fill="#FC0367"/>
<rect x="216.75" y="960.20" width="19.60" height="19.60" fill="#FC0367"/>
<rect x="231.76" y="955.20" width="19.60" height="19.60" fill="#FC0367"/>
<rect x="246.77" y="904.70" width="19.60" height="19.60" fill="#FC0367"/>
<rect x="261.78" y="859.20" width="19.60" height="19.60" fill="#FC0367"/>
<rect x="276.79" y="845.20" width="19.60" height="19.60" fill="#FC0367"/>
<rect x="291.80" y="711.60" width="19.60" height="19.60" fill="#FC0367"/>
<rect x="306.81" y="808.80" width="19.60" height="19.60" fill="#FC0367"/>
<rect x="321.82" y="823.20" width="19.60" height="19.60" fill="#FC0367"/>
<rect x="336.83" y="821.90" width="19.60" height="19.60" fill="#FC0367"/>
<rect x="351.84" y="820.80" width="19.60" height="19.60" fill="#FC0367"/>
<rect x="366.85" y="830.00" width="19.60" height="19.60" fill="#FC0367"/>
<rect x="381.86" y="803.50" width="19.60" height="19.60" fill="#FC0367"/>
<rect x="396.87" y="761.00" width="19.60" height="19.60" fill="#FC0367"/>
<rect x="411.88" y="805.80" width="19.60" height="19.60" fill="#FC0367"/>
<rect x="426.89" y="770.20" width="19.60" height="19.60" fill="#FC0367"/>
<rect x="441.90" y="798.90" width="19.60" height="19.60" fill="#FC0367"/>
<rect x="456.91" y="790.90" width="19.60" height="19.60" fill="#FC0367"/>
<rect x="471.92" y="800.20" width="19.60" height="19.60" fill="#FC0367"/>
<rect x="486.93" y="750.20" width="19.60" height="19.60" fill="#FC0367"/>
<rect x="501.94" y="765.60" width="19.60" height="19.60" fill="#FC0367"/>
<rect x="516.95" y="774.80" width="19.60" height="19.60" fill="#FC0367"/>
<rect x="531.96" y="794.20" width="19.60" height="19.60" fill="#FC0367"/>
<rect x="546.97" y="788.60" width="19.60" height="19.60" fill="#FC0367"/>
<rect x="561.98" y="789.70" width="19.60" height="19.60" fill="#FC0367"/>
<rect x="576.99" y="755.20" width="19.60" height="19.60" fill="#FC0367"/>
<rect x="592.00" y="725.20" width="19.60" height="19.60" fill="#FC0367"/>
<rect x="607.01" y="761.00" width="19.60" height="19.60" fill="#FC0367"/>
<rect x="622.02" y="789.70" width="19.60" height="19.60" fill="#FC0367"/>
<rect x="637.03" y="774.80" width="19.60" height="19.60" fill="#FC0367"/>
<rect x="652.04" y="770.20" width="19.60" height="19.60" fill="#FC0367"/>
<rect x="667.05" y="813.90" width="19.60" height="19.60" fill="#FC0367"/>
<rect x="682.06" y="803.50" width="19.60" height="19.60" fill="#FC0367"/>
<rect x="697.07" y="792.00" width="19.60" height="19.60" fill="#FC0367"/>
<rect x="712.08" y="859.90" width="19.60" height="19.60" fill="#FC0367"/>
<rect x="727.09" y="861.00" width="19.60" height="19.60" fill="#FC0367"/>
<line x1="151.50" y1="961.00" x2="151.50" y2="985.00" stroke="#000" stroke-width="2.7"/>
<line x1="142.20" y1="961.00" x2="160.80" y2="961.00" stroke="#000" stroke-width="2.7"/>
<line x1="142.20" y1="985.00" x2="160.80" y2="985.00" stroke="#000" stroke-width="2.7"/>
<line x1="211.54" y1="954.40" x2="211.54" y2="974.40" stroke="#000" stroke-width="2.7"/>
<line x1="202.24" y1="954.40" x2="220.84" y2="954.40" stroke="#000" stroke-width="2.7"/>
<line x1="202.24" y1="974.40" x2="220.84" y2="974.40" stroke="#000" stroke-width="2.7"/>
<line x1="256.57" y1="924.60" x2="256.57" y2="946.60" stroke="#000" stroke-width="2.7"/>
<line x1="247.27" y1="924.60" x2="265.87" y2="924.60" stroke="#000" stroke-width="2.7"/>
<line x1="247.27" y1="946.60" x2="265.87" y2="946.60" stroke="#000" stroke-width="2.7"/>
<line x1="361.64" y1="917.90" x2="361.64" y2="940.90" stroke="#000" stroke-width="2.7"/>
<line x1="352.34" y1="917.90" x2="370.94" y2="917.90" stroke="#000" stroke-width="2.7"/>
<line x1="352.34" y1="940.90" x2="370.94" y2="940.90" stroke="#000" stroke-width="2.7"/>
<line x1="376.65" y1="889.00" x2="376.65" y2="933.00" stroke="#000" stroke-width="2.7"/>
<line x1="367.35" y1="889.00" x2="385.95" y2="889.00" stroke="#000" stroke-width="2.7"/>
<line x1="367.35" y1="933.00" x2="385.95" y2="933.00" stroke="#000" stroke-width="2.7"/>
<line x1="421.68" y1="898.70" x2="421.68" y2="918.70" stroke="#000" stroke-width="2.7"/>
<line x1="412.38" y1="898.70" x2="430.98" y2="898.70" stroke="#000" stroke-width="2.7"/>
<line x1="412.38" y1="918.70" x2="430.98" y2="918.70" stroke="#000" stroke-width="2.7"/>
<line x1="436.69" y1="833.40" x2="436.69" y2="901.40" stroke="#000" stroke-width="2.7"/>
<line x1="427.39" y1="833.40" x2="445.99" y2="833.40" stroke="#000" stroke-width="2.7"/>
<line x1="427.39" y1="901.40" x2="445.99" y2="901.40" stroke="#000" stroke-width="2.7"/>
<line x1="451.70" y1="858.50" x2="451.70" y2="894.50" stroke="#000" stroke-width="2.7"/>
<line x1="442.40" y1="858.50" x2="461.00" y2="858.50" stroke="#000" stroke-width="2.7"/>
<line x1="442.40" y1="894.50" x2="461.00" y2="894.50" stroke="#000" stroke-width="2.7"/>
<line x1="466.71" y1="857.60" x2="466.71" y2="887.60" stroke="#000" stroke-width="2.7"/>
<line x1="457.41" y1="857.60" x2="476.01" y2="857.60" stroke="#000" stroke-width="2.7"/>
<line x1="457.41" y1="887.60" x2="476.01" y2="887.60" stroke="#000" stroke-width="2.7"/>
<line x1="481.72" y1="860.90" x2="481.72" y2="896.90" stroke="#000" stroke-width="2.7"/>
<line x1="472.42" y1="860.90" x2="491.02" y2="860.90" stroke="#000" stroke-width="2.7"/>
<line x1="472.42" y1="896.90" x2="491.02" y2="896.90" stroke="#000" stroke-width="2.7"/>
<line x1="511.74" y1="858.60" x2="511.74" y2="886.60" stroke="#000" stroke-width="2.7"/>
<line x1="502.44" y1="858.60" x2="521.04" y2="858.60" stroke="#000" stroke-width="2.7"/>
<line x1="502.44" y1="886.60" x2="521.04" y2="886.60" stroke="#000" stroke-width="2.7"/>
<line x1="526.75" y1="838.00" x2="526.75" y2="878.00" stroke="#000" stroke-width="2.7"/>
<line x1="517.45" y1="838.00" x2="536.05" y2="838.00" stroke="#000" stroke-width="2.7"/>
<line x1="517.45" y1="878.00" x2="536.05" y2="878.00" stroke="#000" stroke-width="2.7"/>
<line x1="541.76" y1="853.00" x2="541.76" y2="875.00" stroke="#000" stroke-width="2.7"/>
<line x1="532.46" y1="853.00" x2="551.06" y2="853.00" stroke="#000" stroke-width="2.7"/>
<line x1="532.46" y1="875.00" x2="551.06" y2="875.00" stroke="#000" stroke-width="2.7"/>
<line x1="556.77" y1="852.80" x2="556.77" y2="872.80" stroke="#000" stroke-width="2.7"/>
<line x1="547.47" y1="852.80" x2="566.07" y2="852.80" stroke="#000" stroke-width="2.7"/>
<line x1="547.47" y1="872.80" x2="566.07" y2="872.80" stroke="#000" stroke-width="2.7"/>
<line x1="571.78" y1="850.50" x2="571.78" y2="909.50" stroke="#000" stroke-width="2.7"/>
<line x1="562.48" y1="850.50" x2="581.08" y2="850.50" stroke="#000" stroke-width="2.7"/>
<line x1="562.48" y1="909.50" x2="581.08" y2="909.50" stroke="#000" stroke-width="2.7"/>
<line x1="586.79" y1="852.00" x2="586.79" y2="910.00" stroke="#000" stroke-width="2.7"/>
<line x1="577.49" y1="852.00" x2="596.09" y2="852.00" stroke="#000" stroke-width="2.7"/>
<line x1="577.49" y1="910.00" x2="596.09" y2="910.00" stroke="#000" stroke-width="2.7"/>
<line x1="601.80" y1="847.00" x2="601.80" y2="901.00" stroke="#000" stroke-width="2.7"/>
<line x1="592.50" y1="847.00" x2="611.10" y2="847.00" stroke="#000" stroke-width="2.7"/>
<line x1="592.50" y1="901.00" x2="611.10" y2="901.00" stroke="#000" stroke-width="2.7"/>
<line x1="616.81" y1="826.60" x2="616.81" y2="896.60" stroke="#000" stroke-width="2.7"/>
<line x1="607.51" y1="826.60" x2="626.11" y2="826.60" stroke="#000" stroke-width="2.7"/>
<line x1="607.51" y1="896.60" x2="626.11" y2="896.60" stroke="#000" stroke-width="2.7"/>
<line x1="631.82" y1="807.30" x2="631.82" y2="849.30" stroke="#000" stroke-width="2.7"/>
<line x1="622.52" y1="807.30" x2="641.12" y2="807.30" stroke="#000" stroke-width="2.7"/>
<line x1="622.52" y1="849.30" x2="641.12" y2="849.30" stroke="#000" stroke-width="2.7"/>
<line x1="646.83" y1="777.70" x2="646.83" y2="869.70" stroke="#000" stroke-width="2.7"/>
<line x1="637.53" y1="777.70" x2="656.13" y2="777.70" stroke="#000" stroke-width="2.7"/>
<line x1="637.53" y1="869.70" x2="656.13" y2="869.70" stroke="#000" stroke-width="2.7"/>
<line x1="661.84" y1="814.00" x2="661.84" y2="870.00" stroke="#000" stroke-width="2.7"/>
<line x1="652.54" y1="814.00" x2="671.14" y2="814.00" stroke="#000" stroke-width="2.7"/>
<line x1="652.54" y1="870.00" x2="671.14" y2="870.00" stroke="#000" stroke-width="2.7"/>
<line x1="676.85" y1="816.50" x2="676.85" y2="874.50" stroke="#000" stroke-width="2.7"/>
<line x1="667.55" y1="816.50" x2="686.15" y2="816.50" stroke="#000" stroke-width="2.7"/>
<line x1="667.55" y1="874.50" x2="686.15" y2="874.50" stroke="#000" stroke-width="2.7"/>
<line x1="691.86" y1="819.40" x2="691.86" y2="869.40" stroke="#000" stroke-width="2.7"/>
<line x1="682.56" y1="819.40" x2="701.16" y2="819.40" stroke="#000" stroke-width="2.7"/>
<line x1="682.56" y1="869.40" x2="701.16" y2="869.40" stroke="#000" stroke-width="2.7"/>
<line x1="706.87" y1="816.50" x2="706.87" y2="874.50" stroke="#000" stroke-width="2.7"/>
<line x1="697.57" y1="816.50" x2="716.17" y2="816.50" stroke="#000" stroke-width="2.7"/>
<line x1="697.57" y1="874.50" x2="716.17" y2="874.50" stroke="#000" stroke-width="2.7"/>
<line x1="721.88" y1="889.00" x2="721.88" y2="939.00" stroke="#000" stroke-width="2.7"/>
<line x1="712.58" y1="889.00" x2="731.18" y2="889.00" stroke="#000" stroke-width="2.7"/>
<line x1="712.58" y1="939.00" x2="731.18" y2="939.00" stroke="#000" stroke-width="2.7"/>
<line x1="736.89" y1="830.50" x2="736.89" y2="889.50" stroke="#000" stroke-width="2.7"/>
<line x1="727.59" y1="830.50" x2="746.19" y2="830.50" stroke="#000" stroke-width="2.7"/>
<line x1="727.59" y1="889.50" x2="746.19" y2="889.50" stroke="#000" stroke-width="2.7"/>
<polyline points="151.5,973.0 166.5,954.7 181.5,953.0 196.5,950.0 211.5,964.4 226.6,943.7 241.6,940.0 256.6,935.6 271.6,915.6 286.6,912.0 301.6,914.0 316.6,919.0 331.6,925.0 346.6,917.0 361.6,929.4 376.6,911.0 391.7,892.6 406.7,895.4 421.7,908.7 436.7,867.4 451.7,876.5 466.7,872.6 481.7,878.9 496.7,880.0 511.7,872.6 526.8,858.0 541.8,864.0 556.8,862.8 571.8,880.0 586.8,881.0 601.8,874.0 616.8,861.6 631.8,828.3 646.8,823.7 661.8,842.0 676.9,845.5 691.9,844.4 706.9,845.5 721.9,914.0 736.9,860.0" fill="none" stroke="#000" stroke-width="2.7"/>
<circle cx="151.5" cy="973.0" r="9.7" fill="#000"/>
<circle cx="166.5" cy="954.7" r="9.7" fill="#000"/>
<circle cx="181.5" cy="953.0" r="9.7" fill="#000"/>
<circle cx="196.5" cy="950.0" r="9.7" fill="#000"/>
<circle cx="211.5" cy="964.4" r="9.7" fill="#000"/>
<circle cx="226.6" cy="943.7" r="9.7" fill="#000"/>
<circle cx="241.6" cy="940.0" r="9.7" fill="#000"/>
<circle cx="256.6" cy="935.6" r="9.7" fill="#000"/>
<circle cx="271.6" cy="915.6" r="9.7" fill="#000"/>
<circle cx="286.6" cy="912.0" r="9.7" fill="#000"/>
<circle cx="301.6" cy="914.0" r="9.7" fill="#000"/>
<circle cx="316.6" cy="919.0" r="9.7" fill="#000"/>
<circle cx="331.6" cy="925.0" r="9.7" fill="#000"/>
<circle cx="346.6" cy="917.0" r="9.7" fill="#000"/>
<circle cx="361.6" cy="929.4" r="9.7" fill="#000"/>
<circle cx="376.6" cy="911.0" r="9.7" fill="#000"/>
<circle cx="391.7" cy="892.6" r="9.7" fill="#000"/>
<circle cx="406.7" cy="895.4" r="9.7" fill="#000"/>
<circle cx="421.7" cy="908.7" r="9.7" fill="#000"/>
<circle cx="436.7" cy="867.4" r="9.7" fill="#000"/>
<circle cx="451.7" cy="876.5" r="9.7" fill="#000"/>
<circle cx="466.7" cy="872.6" r="9.7" fill="#000"/>
<circle cx="481.7" cy="878.9" r="9.7" fill="#000"/>
<circle cx="496.7" cy="880.0" r="9.7" fill="#000"/>
<circle cx="511.7" cy="872.6" r="9.7" fill="#000"/>
<circle cx="526.8" cy="858.0" r="9.7" fill="#000"/>
<circle cx="541.8" cy="864.0" r="9.7" fill="#000"/>
<circle cx="556.8" cy="862.8" r="9.7" fill="#000"/>
<circle cx="571.8" cy="880.0" r="9.7" fill="#000"/>
<circle cx="586.8" cy="881.0" r="9.7" fill="#000"/>
<circle cx="601.8" cy="874.0" r="9.7" fill="#000"/>
<circle cx="616.8" cy="861.6" r="9.7" fill="#000"/>
<circle cx="631.8" cy="828.3" r="9.7" fill="#000"/>
<circle cx="646.8" cy="823.7" r="9.7" fill="#000"/>
<circle cx="661.8" cy="842.0" r="9.7" fill="#000"/>
<circle cx="676.9" cy="845.5" r="9.7" fill="#000"/>
<circle cx="691.9" cy="844.4" r="9.7" fill="#000"/>
<circle cx="706.9" cy="845.5" r="9.7" fill="#000"/>
<circle cx="721.9" cy="914.0" r="9.7" fill="#000"/>
<circle cx="736.9" cy="860.0" r="9.7" fill="#000"/>
<text x="491.00" y="1085.00" font-size="36" font-weight="700" text-anchor="middle" fill="#000">Time (minutes)</text>
<text x="78.00" y="751.50" font-size="36.5" font-weight="700" text-anchor="middle" fill="#000" transform="rotate(-90 78.00 751.50)">OCR (pmol/min)</text>
<line x1="930.80" y1="764.30" x2="960.80" y2="764.30" stroke="#FC0367" stroke-width="2.4"/>
<rect x="935.80" y="754.30" width="20.00" height="20.00" fill="#FC0367"/>
<text x="976.50" y="777.10" font-size="36" text-anchor="start" fill="#000">Primed</text>
<line x1="930.80" y1="833.30" x2="960.80" y2="833.30" stroke="#000" stroke-width="2.4"/>
<circle cx="945.8" cy="833.3" r="10" fill="#000"/>
<text x="977.00" y="845.70" font-size="36" text-anchor="start" fill="#000">Unprimed</text>
<text x="0.00" y="1174.00" font-size="28" font-weight="700" text-anchor="start" fill="#000">D</text>
<line x1="152.50" y1="1207.05" x2="152.50" y2="1662.85" stroke="#000" stroke-width="4.3"/>
<line x1="140.50" y1="1660.70" x2="833.25" y2="1660.70" stroke="#000" stroke-width="4.3"/>
<line x1="140.50" y1="1660.70" x2="152.50" y2="1660.70" stroke="#000" stroke-width="4.3"/>
<text x="135.90" y="1673.00" font-size="34" font-weight="700" text-anchor="end" fill="#000">0</text>
<line x1="140.50" y1="1570.40" x2="152.50" y2="1570.40" stroke="#000" stroke-width="4.3"/>
<text x="135.90" y="1582.70" font-size="34" font-weight="700" text-anchor="end" fill="#000">10</text>
<line x1="140.50" y1="1480.10" x2="152.50" y2="1480.10" stroke="#000" stroke-width="4.3"/>
<text x="135.90" y="1492.40" font-size="34" font-weight="700" text-anchor="end" fill="#000">20</text>
<line x1="140.50" y1="1389.80" x2="152.50" y2="1389.80" stroke="#000" stroke-width="4.3"/>
<text x="135.90" y="1402.10" font-size="34" font-weight="700" text-anchor="end" fill="#000">30</text>
<line x1="140.50" y1="1299.50" x2="152.50" y2="1299.50" stroke="#000" stroke-width="4.3"/>
<text x="135.90" y="1311.80" font-size="34" font-weight="700" text-anchor="end" fill="#000">40</text>
<line x1="140.50" y1="1209.20" x2="152.50" y2="1209.20" stroke="#000" stroke-width="4.3"/>
<text x="135.90" y="1221.50" font-size="34" font-weight="700" text-anchor="end" fill="#000">50</text>
<line x1="152.50" y1="1660.70" x2="152.50" y2="1673.70" stroke="#000" stroke-width="4.3"/>
<text x="152.50" y="1707.90" font-size="34" font-weight="700" text-anchor="middle" fill="#000">0</text>
<line x1="175.12" y1="1660.70" x2="175.12" y2="1668.20" stroke="#000" stroke-width="4.1"/>
<line x1="197.74" y1="1660.70" x2="197.74" y2="1668.20" stroke="#000" stroke-width="4.1"/>
<line x1="220.36" y1="1660.70" x2="220.36" y2="1668.20" stroke="#000" stroke-width="4.1"/>
<line x1="242.98" y1="1660.70" x2="242.98" y2="1668.20" stroke="#000" stroke-width="4.1"/>
<line x1="265.60" y1="1660.70" x2="265.60" y2="1668.20" stroke="#000" stroke-width="4.1"/>
<line x1="288.22" y1="1660.70" x2="288.22" y2="1668.20" stroke="#000" stroke-width="4.1"/>
<line x1="310.84" y1="1660.70" x2="310.84" y2="1668.20" stroke="#000" stroke-width="4.1"/>
<line x1="333.46" y1="1660.70" x2="333.46" y2="1668.20" stroke="#000" stroke-width="4.1"/>
<line x1="356.08" y1="1660.70" x2="356.08" y2="1668.20" stroke="#000" stroke-width="4.1"/>
<line x1="378.70" y1="1660.70" x2="378.70" y2="1673.70" stroke="#000" stroke-width="4.3"/>
<text x="378.70" y="1707.90" font-size="34" font-weight="700" text-anchor="middle" fill="#000">100</text>
<line x1="401.32" y1="1660.70" x2="401.32" y2="1668.20" stroke="#000" stroke-width="4.1"/>
<line x1="423.94" y1="1660.70" x2="423.94" y2="1668.20" stroke="#000" stroke-width="4.1"/>
<line x1="446.56" y1="1660.70" x2="446.56" y2="1668.20" stroke="#000" stroke-width="4.1"/>
<line x1="469.18" y1="1660.70" x2="469.18" y2="1668.20" stroke="#000" stroke-width="4.1"/>
<line x1="491.80" y1="1660.70" x2="491.80" y2="1668.20" stroke="#000" stroke-width="4.1"/>
<line x1="514.42" y1="1660.70" x2="514.42" y2="1668.20" stroke="#000" stroke-width="4.1"/>
<line x1="537.04" y1="1660.70" x2="537.04" y2="1668.20" stroke="#000" stroke-width="4.1"/>
<line x1="559.66" y1="1660.70" x2="559.66" y2="1668.20" stroke="#000" stroke-width="4.1"/>
<line x1="582.28" y1="1660.70" x2="582.28" y2="1668.20" stroke="#000" stroke-width="4.1"/>
<line x1="604.90" y1="1660.70" x2="604.90" y2="1673.70" stroke="#000" stroke-width="4.3"/>
<text x="604.90" y="1707.90" font-size="34" font-weight="700" text-anchor="middle" fill="#000">200</text>
<line x1="627.52" y1="1660.70" x2="627.52" y2="1668.20" stroke="#000" stroke-width="4.1"/>
<line x1="650.14" y1="1660.70" x2="650.14" y2="1668.20" stroke="#000" stroke-width="4.1"/>
<line x1="672.76" y1="1660.70" x2="672.76" y2="1668.20" stroke="#000" stroke-width="4.1"/>
<line x1="695.38" y1="1660.70" x2="695.38" y2="1668.20" stroke="#000" stroke-width="4.1"/>
<line x1="718.00" y1="1660.70" x2="718.00" y2="1668.20" stroke="#000" stroke-width="4.1"/>
<line x1="740.62" y1="1660.70" x2="740.62" y2="1668.20" stroke="#000" stroke-width="4.1"/>
<line x1="763.24" y1="1660.70" x2="763.24" y2="1668.20" stroke="#000" stroke-width="4.1"/>
<line x1="785.86" y1="1660.70" x2="785.86" y2="1668.20" stroke="#000" stroke-width="4.1"/>
<line x1="808.48" y1="1660.70" x2="808.48" y2="1668.20" stroke="#000" stroke-width="4.1"/>
<line x1="831.10" y1="1660.70" x2="831.10" y2="1673.70" stroke="#000" stroke-width="4.3"/>
<text x="831.10" y="1707.90" font-size="34" font-weight="700" text-anchor="middle" fill="#000">300</text>
<line x1="209.00" y1="1398.00" x2="209.00" y2="1662.00" stroke="#000" stroke-width="1.4" stroke-dasharray="5.3 5"/>
<line x1="252.50" y1="1292.00" x2="252.50" y2="1662.00" stroke="#000" stroke-width="2.5" stroke-dasharray="7 6.5"/>
<line x1="295.50" y1="1247.00" x2="295.50" y2="1662.00" stroke="#000" stroke-width="2.0" stroke-dasharray="5.7 4.5"/>
<text x="159.00" y="1371.00" font-size="26" text-anchor="start" fill="#000">Rot/AA</text>
<text x="166.00" y="1283.00" font-size="25.2" text-anchor="start" fill="#000">Media/TNF</text>
<text x="279.00" y="1240.00" font-size="26" text-anchor="start" fill="#000">fMLP</text>
<line x1="154.50" y1="1622.90" x2="154.50" y2="1648.90" stroke="#FC0367" stroke-width="2.7"/>
<line x1="145.20" y1="1622.90" x2="163.80" y2="1622.90" stroke="#FC0367" stroke-width="2.7"/>
<line x1="145.20" y1="1648.90" x2="163.80" y2="1648.90" stroke="#FC0367" stroke-width="2.7"/>
<line x1="303.60" y1="1287.90" x2="303.60" y2="1343.90" stroke="#FC0367" stroke-width="2.7"/>
<line x1="294.30" y1="1287.90" x2="312.90" y2="1287.90" stroke="#FC0367" stroke-width="2.7"/>
<line x1="294.30" y1="1343.90" x2="312.90" y2="1343.90" stroke="#FC0367" stroke-width="2.7"/>
<line x1="318.51" y1="1353.50" x2="318.51" y2="1393.50" stroke="#FC0367" stroke-width="2.7"/>
<line x1="309.21" y1="1353.50" x2="327.81" y2="1353.50" stroke="#FC0367" stroke-width="2.7"/>
<line x1="309.21" y1="1393.50" x2="327.81" y2="1393.50" stroke="#FC0367" stroke-width="2.7"/>
<line x1="333.42" y1="1322.30" x2="333.42" y2="1359.70" stroke="#FC0367" stroke-width="2.7"/>
<line x1="324.12" y1="1322.30" x2="342.72" y2="1322.30" stroke="#FC0367" stroke-width="2.7"/>
<line x1="324.12" y1="1359.70" x2="342.72" y2="1359.70" stroke="#FC0367" stroke-width="2.7"/>
<line x1="348.33" y1="1351.00" x2="348.33" y2="1395.00" stroke="#FC0367" stroke-width="2.7"/>
<line x1="339.03" y1="1351.00" x2="357.63" y2="1351.00" stroke="#FC0367" stroke-width="2.7"/>
<line x1="339.03" y1="1395.00" x2="357.63" y2="1395.00" stroke="#FC0367" stroke-width="2.7"/>
<line x1="378.15" y1="1409.70" x2="378.15" y2="1465.70" stroke="#FC0367" stroke-width="2.7"/>
<line x1="368.85" y1="1409.70" x2="387.45" y2="1409.70" stroke="#FC0367" stroke-width="2.7"/>
<line x1="368.85" y1="1465.70" x2="387.45" y2="1465.70" stroke="#FC0367" stroke-width="2.7"/>
<line x1="393.06" y1="1450.20" x2="393.06" y2="1485.80" stroke="#FC0367" stroke-width="2.7"/>
<line x1="383.76" y1="1450.20" x2="402.36" y2="1450.20" stroke="#FC0367" stroke-width="2.7"/>
<line x1="383.76" y1="1485.80" x2="402.36" y2="1485.80" stroke="#FC0367" stroke-width="2.7"/>
<line x1="407.97" y1="1465.50" x2="407.97" y2="1493.50" stroke="#FC0367" stroke-width="2.7"/>
<line x1="398.67" y1="1465.50" x2="417.27" y2="1465.50" stroke="#FC0367" stroke-width="2.7"/>
<line x1="398.67" y1="1493.50" x2="417.27" y2="1493.50" stroke="#FC0367" stroke-width="2.7"/>
<line x1="422.88" y1="1485.90" x2="422.88" y2="1535.30" stroke="#FC0367" stroke-width="2.7"/>
<line x1="413.58" y1="1485.90" x2="432.18" y2="1485.90" stroke="#FC0367" stroke-width="2.7"/>
<line x1="413.58" y1="1535.30" x2="432.18" y2="1535.30" stroke="#FC0367" stroke-width="2.7"/>
<line x1="437.79" y1="1497.60" x2="437.79" y2="1523.60" stroke="#FC0367" stroke-width="2.7"/>
<line x1="428.49" y1="1497.60" x2="447.09" y2="1497.60" stroke="#FC0367" stroke-width="2.7"/>
<line x1="428.49" y1="1523.60" x2="447.09" y2="1523.60" stroke="#FC0367" stroke-width="2.7"/>
<line x1="452.70" y1="1452.00" x2="452.70" y2="1498.00" stroke="#FC0367" stroke-width="2.7"/>
<line x1="443.40" y1="1452.00" x2="462.00" y2="1452.00" stroke="#FC0367" stroke-width="2.7"/>
<line x1="443.40" y1="1498.00" x2="462.00" y2="1498.00" stroke="#FC0367" stroke-width="2.7"/>
<line x1="467.61" y1="1478.00" x2="467.61" y2="1506.00" stroke="#FC0367" stroke-width="2.7"/>
<line x1="458.31" y1="1478.00" x2="476.91" y2="1478.00" stroke="#FC0367" stroke-width="2.7"/>
<line x1="458.31" y1="1506.00" x2="476.91" y2="1506.00" stroke="#FC0367" stroke-width="2.7"/>
<line x1="482.52" y1="1483.00" x2="482.52" y2="1524.40" stroke="#FC0367" stroke-width="2.7"/>
<line x1="473.22" y1="1483.00" x2="491.82" y2="1483.00" stroke="#FC0367" stroke-width="2.7"/>
<line x1="473.22" y1="1524.40" x2="491.82" y2="1524.40" stroke="#FC0367" stroke-width="2.7"/>
<line x1="497.43" y1="1516.30" x2="497.43" y2="1562.30" stroke="#FC0367" stroke-width="2.7"/>
<line x1="488.13" y1="1516.30" x2="506.73" y2="1516.30" stroke="#FC0367" stroke-width="2.7"/>
<line x1="488.13" y1="1562.30" x2="506.73" y2="1562.30" stroke="#FC0367" stroke-width="2.7"/>
<line x1="512.34" y1="1518.00" x2="512.34" y2="1546.00" stroke="#FC0367" stroke-width="2.7"/>
<line x1="503.04" y1="1518.00" x2="521.64" y2="1518.00" stroke="#FC0367" stroke-width="2.7"/>
<line x1="503.04" y1="1546.00" x2="521.64" y2="1546.00" stroke="#FC0367" stroke-width="2.7"/>
<line x1="527.25" y1="1499.50" x2="527.25" y2="1551.50" stroke="#FC0367" stroke-width="2.7"/>
<line x1="517.95" y1="1499.50" x2="536.55" y2="1499.50" stroke="#FC0367" stroke-width="2.7"/>
<line x1="517.95" y1="1551.50" x2="536.55" y2="1551.50" stroke="#FC0367" stroke-width="2.7"/>
<line x1="542.16" y1="1497.80" x2="542.16" y2="1541.80" stroke="#FC0367" stroke-width="2.7"/>
<line x1="532.86" y1="1497.80" x2="551.46" y2="1497.80" stroke="#FC0367" stroke-width="2.7"/>
<line x1="532.86" y1="1541.80" x2="551.46" y2="1541.80" stroke="#FC0367" stroke-width="2.7"/>
<line x1="557.07" y1="1502.40" x2="557.07" y2="1592.40" stroke="#FC0367" stroke-width="2.7"/>
<line x1="547.77" y1="1502.40" x2="566.37" y2="1502.40" stroke="#FC0367" stroke-width="2.7"/>
<line x1="547.77" y1="1592.40" x2="566.37" y2="1592.40" stroke="#FC0367" stroke-width="2.7"/>
<line x1="571.98" y1="1490.60" x2="571.98" y2="1576.60" stroke="#FC0367" stroke-width="2.7"/>
<line x1="562.68" y1="1490.60" x2="581.28" y2="1490.60" stroke="#FC0367" stroke-width="2.7"/>
<line x1="562.68" y1="1576.60" x2="581.28" y2="1576.60" stroke="#FC0367" stroke-width="2.7"/>
<line x1="586.89" y1="1491.30" x2="586.89" y2="1571.30" stroke="#FC0367" stroke-width="2.7"/>
<line x1="577.59" y1="1491.30" x2="596.19" y2="1491.30" stroke="#FC0367" stroke-width="2.7"/>
<line x1="577.59" y1="1571.30" x2="596.19" y2="1571.30" stroke="#FC0367" stroke-width="2.7"/>
<line x1="601.80" y1="1483.40" x2="601.80" y2="1565.40" stroke="#FC0367" stroke-width="2.7"/>
<line x1="592.50" y1="1483.40" x2="611.10" y2="1483.40" stroke="#FC0367" stroke-width="2.7"/>
<line x1="592.50" y1="1565.40" x2="611.10" y2="1565.40" stroke="#FC0367" stroke-width="2.7"/>
<line x1="616.71" y1="1500.60" x2="616.71" y2="1582.60" stroke="#FC0367" stroke-width="2.7"/>
<line x1="607.41" y1="1500.60" x2="626.01" y2="1500.60" stroke="#FC0367" stroke-width="2.7"/>
<line x1="607.41" y1="1582.60" x2="626.01" y2="1582.60" stroke="#FC0367" stroke-width="2.7"/>
<line x1="631.62" y1="1493.50" x2="631.62" y2="1557.50" stroke="#FC0367" stroke-width="2.7"/>
<line x1="622.32" y1="1493.50" x2="640.92" y2="1493.50" stroke="#FC0367" stroke-width="2.7"/>
<line x1="622.32" y1="1557.50" x2="640.92" y2="1557.50" stroke="#FC0367" stroke-width="2.7"/>
<line x1="646.53" y1="1486.80" x2="646.53" y2="1578.00" stroke="#FC0367" stroke-width="2.7"/>
<line x1="637.23" y1="1486.80" x2="655.83" y2="1486.80" stroke="#FC0367" stroke-width="2.7"/>
<line x1="637.23" y1="1578.00" x2="655.83" y2="1578.00" stroke="#FC0367" stroke-width="2.7"/>
<line x1="661.44" y1="1459.40" x2="661.44" y2="1568.60" stroke="#FC0367" stroke-width="2.7"/>
<line x1="652.14" y1="1459.40" x2="670.74" y2="1459.40" stroke="#FC0367" stroke-width="2.7"/>
<line x1="652.14" y1="1568.60" x2="670.74" y2="1568.60" stroke="#FC0367" stroke-width="2.7"/>
<line x1="676.35" y1="1416.00" x2="676.35" y2="1581.20" stroke="#FC0367" stroke-width="2.7"/>
<line x1="667.05" y1="1416.00" x2="685.65" y2="1416.00" stroke="#FC0367" stroke-width="2.7"/>
<line x1="667.05" y1="1581.20" x2="685.65" y2="1581.20" stroke="#FC0367" stroke-width="2.7"/>
<line x1="691.26" y1="1451.20" x2="691.26" y2="1580.60" stroke="#FC0367" stroke-width="2.7"/>
<line x1="681.96" y1="1451.20" x2="700.56" y2="1451.20" stroke="#FC0367" stroke-width="2.7"/>
<line x1="681.96" y1="1580.60" x2="700.56" y2="1580.60" stroke="#FC0367" stroke-width="2.7"/>
<line x1="706.17" y1="1453.00" x2="706.17" y2="1585.00" stroke="#FC0367" stroke-width="2.7"/>
<line x1="696.87" y1="1453.00" x2="715.47" y2="1453.00" stroke="#FC0367" stroke-width="2.7"/>
<line x1="696.87" y1="1585.00" x2="715.47" y2="1585.00" stroke="#FC0367" stroke-width="2.7"/>
<line x1="721.08" y1="1520.30" x2="721.08" y2="1599.70" stroke="#FC0367" stroke-width="2.7"/>
<line x1="711.78" y1="1520.30" x2="730.38" y2="1520.30" stroke="#FC0367" stroke-width="2.7"/>
<line x1="711.78" y1="1599.70" x2="730.38" y2="1599.70" stroke="#FC0367" stroke-width="2.7"/>
<line x1="735.99" y1="1490.00" x2="735.99" y2="1600.00" stroke="#FC0367" stroke-width="2.7"/>
<line x1="726.69" y1="1490.00" x2="745.29" y2="1490.00" stroke="#FC0367" stroke-width="2.7"/>
<line x1="726.69" y1="1600.00" x2="745.29" y2="1600.00" stroke="#FC0367" stroke-width="2.7"/>
<polyline points="154.5,1635.9 169.4,1641.6 184.3,1640.5 199.2,1637.0 214.1,1634.7 229.1,1614.0 244.0,1591.0 258.9,1598.0 273.8,1550.8 288.7,1543.9 303.6,1315.9 318.5,1373.5 333.4,1341.0 348.3,1373.0 363.2,1411.3 378.1,1437.7 393.1,1468.0 408.0,1479.5 422.9,1510.6 437.8,1510.6 452.7,1475.0 467.6,1492.0 482.5,1503.7 497.4,1539.3 512.3,1532.0 527.2,1525.5 542.2,1519.8 557.1,1547.4 572.0,1533.6 586.9,1531.3 601.8,1524.4 616.7,1541.6 631.6,1525.5 646.5,1532.4 661.4,1514.0 676.4,1498.6 691.3,1515.9 706.2,1519.0 721.1,1560.0 736.0,1545.0" fill="none" stroke="#FC0367" stroke-width="2.7"/>
<rect x="144.70" y="1626.10" width="19.60" height="19.60" fill="#FC0367"/>
<rect x="159.61" y="1631.80" width="19.60" height="19.60" fill="#FC0367"/>
<rect x="174.52" y="1630.70" width="19.60" height="19.60" fill="#FC0367"/>
<rect x="189.43" y="1627.20" width="19.60" height="19.60" fill="#FC0367"/>
<rect x="204.34" y="1624.90" width="19.60" height="19.60" fill="#FC0367"/>
<rect x="219.25" y="1604.20" width="19.60" height="19.60" fill="#FC0367"/>
<rect x="234.16" y="1581.20" width="19.60" height="19.60" fill="#FC0367"/>
<rect x="249.07" y="1588.20" width="19.60" height="19.60" fill="#FC0367"/>
<rect x="263.98" y="1541.00" width="19.60" height="19.60" fill="#FC0367"/>
<rect x="278.89" y="1534.10" width="19.60" height="19.60" fill="#FC0367"/>
<rect x="293.80" y="1306.10" width="19.60" height="19.60" fill="#FC0367"/>
<rect x="308.71" y="1363.70" width="19.60" height="19.60" fill="#FC0367"/>
<rect x="323.62" y="1331.20" width="19.60" height="19.60" fill="#FC0367"/>
<rect x="338.53" y="1363.20" width="19.60" height="19.60" fill="#FC0367"/>
<rect x="353.44" y="1401.50" width="19.60" height="19.60" fill="#FC0367"/>
<rect x="368.35" y="1427.90" width="19.60" height="19.60" fill="#FC0367"/>
<rect x="383.26" y="1458.20" width="19.60" height="19.60" fill="#FC0367"/>
<rect x="398.17" y="1469.70" width="19.60" height="19.60" fill="#FC0367"/>
<rect x="413.08" y="1500.80" width="19.60" height="19.60" fill="#FC0367"/>
<rect x="427.99" y="1500.80" width="19.60" height="19.60" fill="#FC0367"/>
<rect x="442.90" y="1465.20" width="19.60" height="19.60" fill="#FC0367"/>
<rect x="457.81" y="1482.20" width="19.60" height="19.60" fill="#FC0367"/>
<rect x="472.72" y="1493.90" width="19.60" height="19.60" fill="#FC0367"/>
<rect x="487.63" y="1529.50" width="19.60" height="19.60" fill="#FC0367"/>
<rect x="502.54" y="1522.20" width="19.60" height="19.60" fill="#FC0367"/>
<rect x="517.45" y="1515.70" width="19.60" height="19.60" fill="#FC0367"/>
<rect x="532.36" y="1510.00" width="19.60" height="19.60" fill="#FC0367"/>
<rect x="547.27" y="1537.60" width="19.60" height="19.60" fill="#FC0367"/>
<rect x="562.18" y="1523.80" width="19.60" height="19.60" fill="#FC0367"/>
<rect x="577.09" y="1521.50" width="19.60" height="19.60" fill="#FC0367"/>
<rect x="592.00" y="1514.60" width="19.60" height="19.60" fill="#FC0367"/>
<rect x="606.91" y="1531.80" width="19.60" height="19.60" fill="#FC0367"/>
<rect x="621.82" y="1515.70" width="19.60" height="19.60" fill="#FC0367"/>
<rect x="636.73" y="1522.60" width="19.60" height="19.60" fill="#FC0367"/>
<rect x="651.64" y="1504.20" width="19.60" height="19.60" fill="#FC0367"/>
<rect x="666.55" y="1488.80" width="19.60" height="19.60" fill="#FC0367"/>
<rect x="681.46" y="1506.10" width="19.60" height="19.60" fill="#FC0367"/>
<rect x="696.37" y="1509.20" width="19.60" height="19.60" fill="#FC0367"/>
<rect x="711.28" y="1550.20" width="19.60" height="19.60" fill="#FC0367"/>
<rect x="726.19" y="1535.20" width="19.60" height="19.60" fill="#FC0367"/>
<line x1="154.50" y1="1621.50" x2="154.50" y2="1644.50" stroke="#000" stroke-width="2.7"/>
<line x1="145.20" y1="1621.50" x2="163.80" y2="1621.50" stroke="#000" stroke-width="2.7"/>
<line x1="145.20" y1="1644.50" x2="163.80" y2="1644.50" stroke="#000" stroke-width="2.7"/>
<line x1="169.41" y1="1628.30" x2="169.41" y2="1650.30" stroke="#000" stroke-width="2.7"/>
<line x1="160.11" y1="1628.30" x2="178.71" y2="1628.30" stroke="#000" stroke-width="2.7"/>
<line x1="160.11" y1="1650.30" x2="178.71" y2="1650.30" stroke="#000" stroke-width="2.7"/>
<line x1="214.14" y1="1610.70" x2="214.14" y2="1641.70" stroke="#000" stroke-width="2.7"/>
<line x1="204.84" y1="1610.70" x2="223.44" y2="1610.70" stroke="#000" stroke-width="2.7"/>
<line x1="204.84" y1="1641.70" x2="223.44" y2="1641.70" stroke="#000" stroke-width="2.7"/>
<line x1="229.05" y1="1604.80" x2="229.05" y2="1634.80" stroke="#000" stroke-width="2.7"/>
<line x1="219.75" y1="1604.80" x2="238.35" y2="1604.80" stroke="#000" stroke-width="2.7"/>
<line x1="219.75" y1="1634.80" x2="238.35" y2="1634.80" stroke="#000" stroke-width="2.7"/>
<line x1="243.96" y1="1602.00" x2="243.96" y2="1633.00" stroke="#000" stroke-width="2.7"/>
<line x1="234.66" y1="1602.00" x2="253.26" y2="1602.00" stroke="#000" stroke-width="2.7"/>
<line x1="234.66" y1="1633.00" x2="253.26" y2="1633.00" stroke="#000" stroke-width="2.7"/>
<line x1="258.87" y1="1602.70" x2="258.87" y2="1646.10" stroke="#000" stroke-width="2.7"/>
<line x1="249.57" y1="1602.70" x2="268.17" y2="1602.70" stroke="#000" stroke-width="2.7"/>
<line x1="249.57" y1="1646.10" x2="268.17" y2="1646.10" stroke="#000" stroke-width="2.7"/>
<line x1="273.78" y1="1597.20" x2="273.78" y2="1649.20" stroke="#000" stroke-width="2.7"/>
<line x1="264.48" y1="1597.20" x2="283.08" y2="1597.20" stroke="#000" stroke-width="2.7"/>
<line x1="264.48" y1="1649.20" x2="283.08" y2="1649.20" stroke="#000" stroke-width="2.7"/>
<line x1="288.69" y1="1597.00" x2="288.69" y2="1647.00" stroke="#000" stroke-width="2.7"/>
<line x1="279.39" y1="1597.00" x2="297.99" y2="1597.00" stroke="#000" stroke-width="2.7"/>
<line x1="279.39" y1="1647.00" x2="297.99" y2="1647.00" stroke="#000" stroke-width="2.7"/>
<line x1="467.61" y1="1596.20" x2="467.61" y2="1634.20" stroke="#000" stroke-width="2.7"/>
<line x1="458.31" y1="1596.20" x2="476.91" y2="1596.20" stroke="#000" stroke-width="2.7"/>
<line x1="458.31" y1="1634.20" x2="476.91" y2="1634.20" stroke="#000" stroke-width="2.7"/>
<line x1="482.52" y1="1631.60" x2="482.52" y2="1651.60" stroke="#000" stroke-width="2.7"/>
<line x1="473.22" y1="1631.60" x2="491.82" y2="1631.60" stroke="#000" stroke-width="2.7"/>
<line x1="473.22" y1="1651.60" x2="491.82" y2="1651.60" stroke="#000" stroke-width="2.7"/>
<line x1="497.43" y1="1624.70" x2="497.43" y2="1644.70" stroke="#000" stroke-width="2.7"/>
<line x1="488.13" y1="1624.70" x2="506.73" y2="1624.70" stroke="#000" stroke-width="2.7"/>
<line x1="488.13" y1="1644.70" x2="506.73" y2="1644.70" stroke="#000" stroke-width="2.7"/>
<line x1="512.34" y1="1634.30" x2="512.34" y2="1653.50" stroke="#000" stroke-width="2.7"/>
<line x1="503.04" y1="1634.30" x2="521.64" y2="1634.30" stroke="#000" stroke-width="2.7"/>
<line x1="503.04" y1="1653.50" x2="521.64" y2="1653.50" stroke="#000" stroke-width="2.7"/>
<line x1="542.16" y1="1638.40" x2="542.16" y2="1656.40" stroke="#000" stroke-width="2.7"/>
<line x1="532.86" y1="1638.40" x2="551.46" y2="1638.40" stroke="#000" stroke-width="2.7"/>
<line x1="532.86" y1="1656.40" x2="551.46" y2="1656.40" stroke="#000" stroke-width="2.7"/>
<polyline points="154.5,1633.0 169.4,1639.3 184.3,1642.8 199.2,1642.8 214.1,1626.2 229.1,1619.8 244.0,1617.5 258.9,1624.4 273.8,1623.2 288.7,1622.0 303.6,1581.8 318.5,1584.0 333.4,1595.6 348.3,1606.0 363.2,1615.0 378.1,1616.3 393.1,1625.5 408.0,1626.7 422.9,1633.6 437.8,1635.9 452.7,1633.6 467.6,1615.2 482.5,1641.6 497.4,1634.7 512.3,1643.9 527.2,1646.2 542.2,1647.4 557.1,1657.2 572.0,1645.0 586.9,1651.5 601.8,1651.5 616.7,1652.0 631.6,1652.0 646.5,1652.0 661.4,1652.0 676.4,1652.4 691.3,1653.8 706.2,1651.5 721.1,1652.0 736.0,1652.0" fill="none" stroke="#000" stroke-width="2.7"/>
<circle cx="154.5" cy="1633.0" r="9.7" fill="#000"/>
<circle cx="169.4" cy="1639.3" r="9.7" fill="#000"/>
<circle cx="184.3" cy="1642.8" r="9.7" fill="#000"/>
<circle cx="199.2" cy="1642.8" r="9.7" fill="#000"/>
<circle cx="214.1" cy="1626.2" r="9.7" fill="#000"/>
<circle cx="229.1" cy="1619.8" r="9.7" fill="#000"/>
<circle cx="244.0" cy="1617.5" r="9.7" fill="#000"/>
<circle cx="258.9" cy="1624.4" r="9.7" fill="#000"/>
<circle cx="273.8" cy="1623.2" r="9.7" fill="#000"/>
<circle cx="288.7" cy="1622.0" r="9.7" fill="#000"/>
<circle cx="303.6" cy="1581.8" r="9.7" fill="#000"/>
<circle cx="318.5" cy="1584.0" r="9.7" fill="#000"/>
<circle cx="333.4" cy="1595.6" r="9.7" fill="#000"/>
<circle cx="348.3" cy="1606.0" r="9.7" fill="#000"/>
<circle cx="363.2" cy="1615.0" r="9.7" fill="#000"/>
<circle cx="378.1" cy="1616.3" r="9.7" fill="#000"/>
<circle cx="393.1" cy="1625.5" r="9.7" fill="#000"/>
<circle cx="408.0" cy="1626.7" r="9.7" fill="#000"/>
<circle cx="422.9" cy="1633.6" r="9.7" fill="#000"/>
<circle cx="437.8" cy="1635.9" r="9.7" fill="#000"/>
<circle cx="452.7" cy="1633.6" r="9.7" fill="#000"/>
<circle cx="467.6" cy="1615.2" r="9.7" fill="#000"/>
<circle cx="482.5" cy="1641.6" r="9.7" fill="#000"/>
<circle cx="497.4" cy="1634.7" r="9.7" fill="#000"/>
<circle cx="512.3" cy="1643.9" r="9.7" fill="#000"/>
<circle cx="527.2" cy="1646.2" r="9.7" fill="#000"/>
<circle cx="542.2" cy="1647.4" r="9.7" fill="#000"/>
<circle cx="557.1" cy="1657.2" r="9.7" fill="#000"/>
<circle cx="572.0" cy="1645.0" r="9.7" fill="#000"/>
<circle cx="586.9" cy="1651.5" r="9.7" fill="#000"/>
<circle cx="601.8" cy="1651.5" r="9.7" fill="#000"/>
<circle cx="616.7" cy="1652.0" r="9.7" fill="#000"/>
<circle cx="631.6" cy="1652.0" r="9.7" fill="#000"/>
<circle cx="646.5" cy="1652.0" r="9.7" fill="#000"/>
<circle cx="661.4" cy="1652.0" r="9.7" fill="#000"/>
<circle cx="676.4" cy="1652.4" r="9.7" fill="#000"/>
<circle cx="691.3" cy="1653.8" r="9.7" fill="#000"/>
<circle cx="706.2" cy="1651.5" r="9.7" fill="#000"/>
<circle cx="721.1" cy="1652.0" r="9.7" fill="#000"/>
<circle cx="736.0" cy="1652.0" r="9.7" fill="#000"/>
<text x="491.00" y="1757.00" font-size="36" font-weight="700" text-anchor="middle" fill="#000">Time (minutes)</text>
<text x="82.00" y="1427.70" font-size="36.1" font-weight="700" text-anchor="middle" fill="#000" transform="rotate(-90 82.00 1427.70)">OCR (pmol/min)</text>
<line x1="927.00" y1="1438.30" x2="957.00" y2="1438.30" stroke="#FC0367" stroke-width="2.4"/>
<rect x="932.00" y="1428.30" width="20.00" height="20.00" fill="#FC0367"/>
<text x="972.60" y="1451.10" font-size="35.5" text-anchor="start" fill="#000">Primed</text>
<line x1="927.00" y1="1507.30" x2="957.00" y2="1507.30" stroke="#000" stroke-width="2.4"/>
<circle cx="942.0" cy="1507.3" r="10" fill="#000"/>
<text x="973.10" y="1519.70" font-size="35.5" text-anchor="start" fill="#000">Unprimed</text>
</svg>
</body></html>
